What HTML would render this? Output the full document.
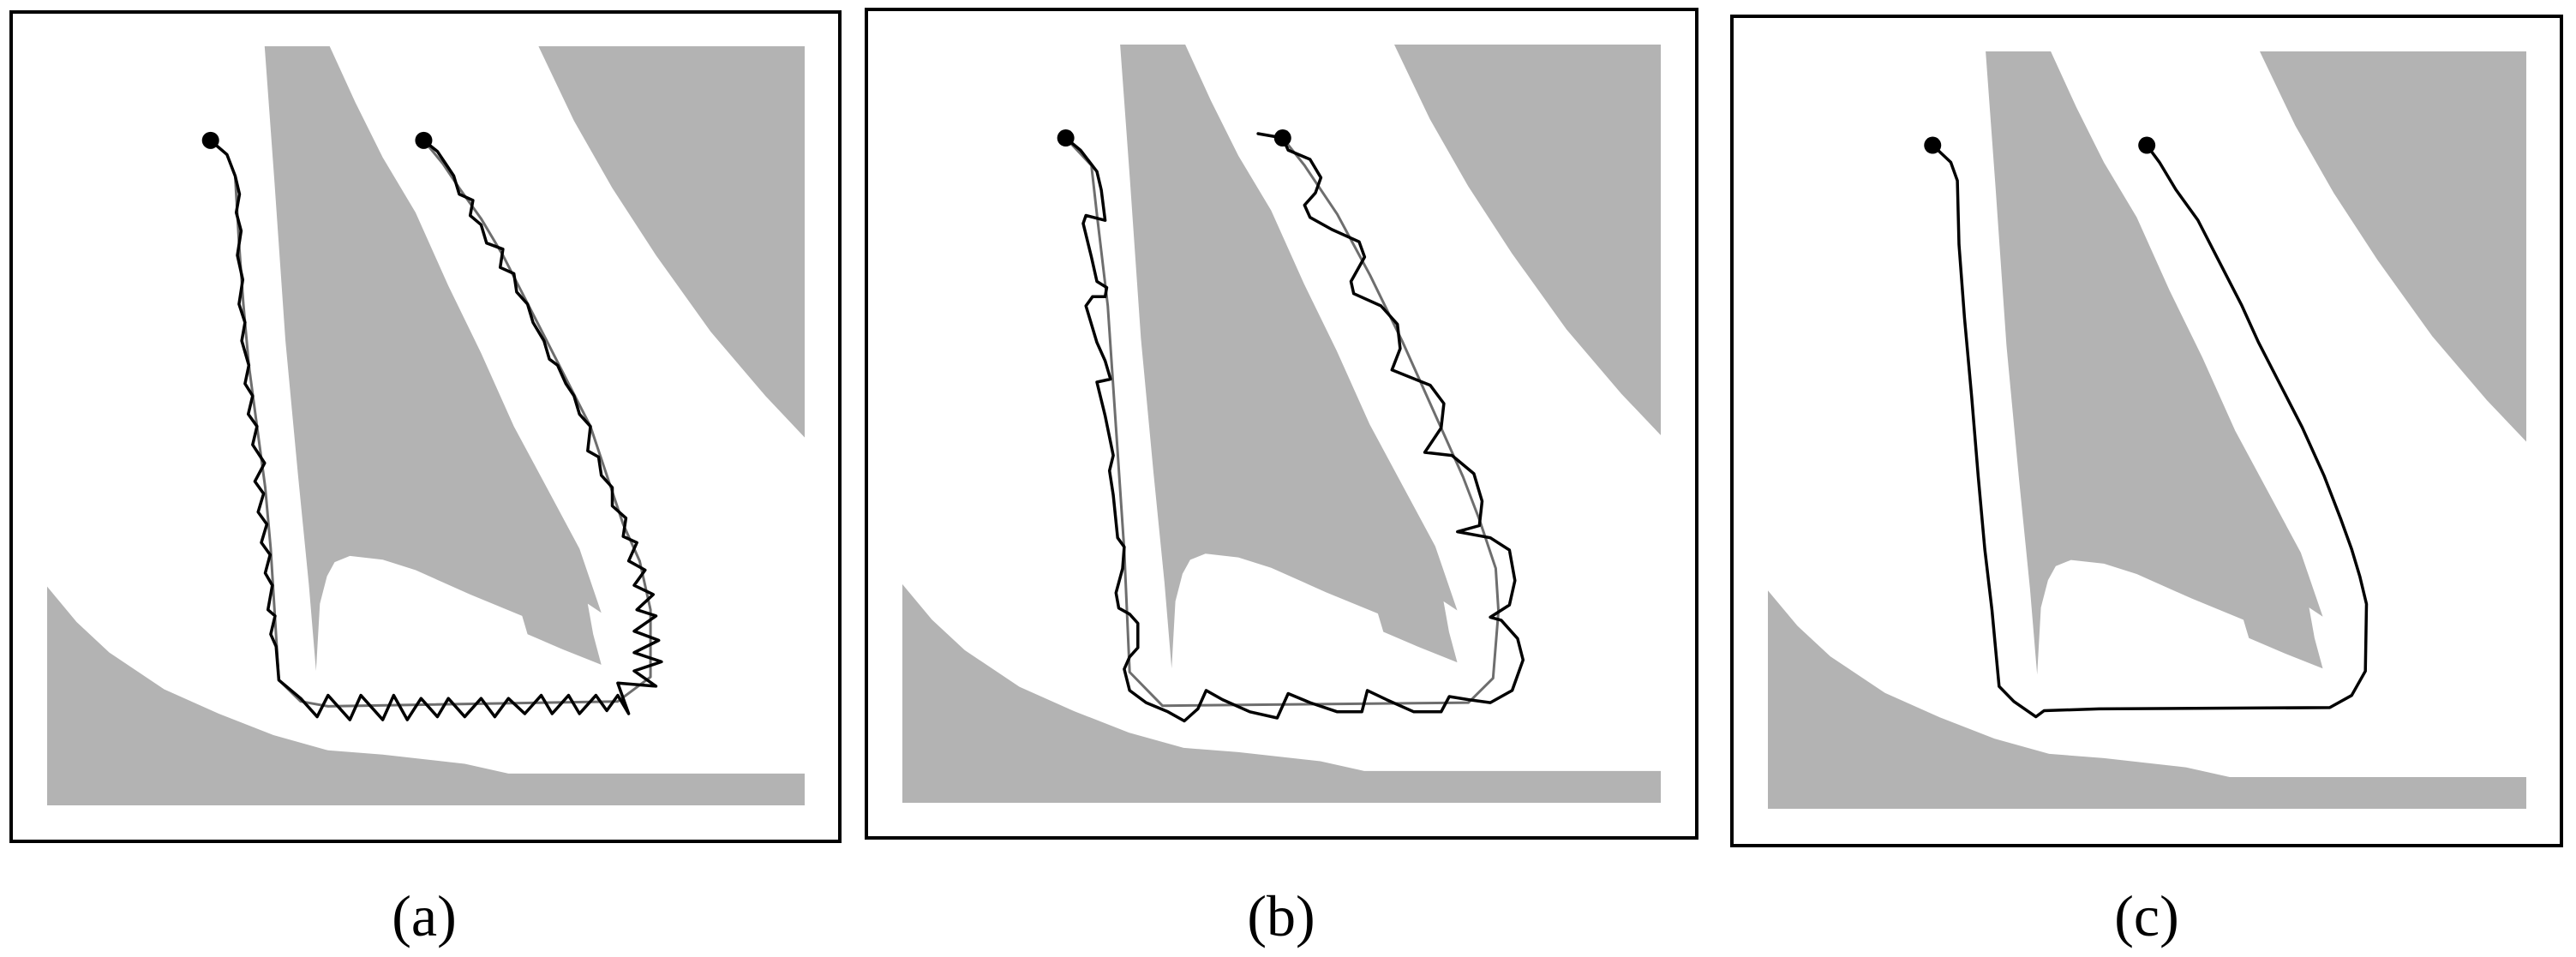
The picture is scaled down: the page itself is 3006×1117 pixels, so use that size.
<!DOCTYPE html>
<html><head><meta charset="utf-8"><style>
html,body{margin:0;padding:0;background:#fff;}
svg{display:block;}
text{font-family:"Liberation Serif",serif;}
</style></head><body>
<svg id="fig" width="3006" height="1117" viewBox="0 0 3006 1117" xmlns="http://www.w3.org/2000/svg">
<rect x="0" y="0" width="3006" height="1117" fill="#fff"/>
</svg>
<script>
// obstacle shapes (map coords, reference frame Z0 = gray rect 86,78 - 1472,1320)
const wedgeShape = [[484,78],[603,78],[650,170],[700,260],[760,350],[820,470],[880,580],[940,700],[1000,800],[1060,900],[1100,1005],[1075,990],[1085,1040],[1100,1090],[1030,1065],[965,1040],[955,1010],[860,975],[760,935],[700,918],[640,912],[612,922],[598,945],[585,990],[578,1100],[565,960],[545,780],[522,560],[502,300]];
const cornerShape = [[985,78],[1472,78],[1472,718],[1400,650],[1300,545],[1200,420],[1120,310],[1050,200]];
const bottomShape = [[86,962],[140,1020],[200,1070],[300,1130],[400,1170],[500,1205],[600,1230],[700,1237],[850,1252],[930,1268],[1472,1268],[1472,1320],[86,1320]];

// panel (a) paths, zoom frame 86,78 - 1472,1320
const refA = [[385,232],[415,255],[430,290],[437,400],[445,500],[455,600],[470,700],[485,800],[495,900],[502,1000],[510,1115],[550,1150],[600,1158],[1130,1150],[1190,1110],[1190,1000],[1170,920],[1140,860],[1110,780],[1080,700],[1040,630],[1000,560],[960,490],[920,420],[880,360],[840,310],[810,270],[775,232]];
const trajA = [[385,232],[415,255],[430,290],[438,320],[432,350],[441,380],[434,420],[444,460],[437,500],[448,530],[442,560],[455,600],[448,630],[462,650],[454,680],[470,700],[462,730],[484,760],[466,790],[482,810],[472,840],[488,860],[478,890],[494,910],[485,940],[498,960],[490,1000],[503,1010],[495,1040],[505,1060],[510,1115],[550,1145],[580,1175],[600,1140],[640,1180],[660,1140],[700,1180],[720,1140],[745,1180],[770,1145],[800,1175],[820,1145],[850,1175],[880,1145],[905,1175],[930,1145],[960,1170],[990,1140],[1010,1170],[1040,1140],[1060,1170],[1090,1140],[1110,1165],[1130,1140],[1150,1170],[1130,1120],[1200,1125],[1160,1100],[1210,1085],[1160,1070],[1205,1050],[1160,1035],[1200,1010],[1165,1000],[1195,975],[1160,960],[1180,935],[1150,920],[1165,890],[1140,880],[1145,850],[1120,830],[1120,800],[1100,780],[1095,750],[1075,740],[1080,700],[1060,680],[1050,650],[1035,630],[1020,600],[1005,590],[995,560],[975,530],[965,500],[945,480],[940,450],[915,440],[920,410],[890,400],[880,370],[860,355],[865,330],[840,320],[830,290],[815,270],[800,250],[775,232]];

// panel (b) paths, zoom frame 84,72 - 1472,1314
const refB = [[383,225],[430,270],[440,350],[460,500],[475,700],[490,900],[500,1100],[560,1155],[1120,1150],[1165,1110],[1175,1000],[1170,930],[1140,850],[1110,780],[1060,680],[1000,560],[940,450],[880,350],[820,270],[780,225]];
const trajB = [[383,225],[410,245],[440,280],[448,310],[455,360],[420,352],[415,365],[430,420],[440,460],[458,470],[455,485],[432,485],[420,500],[440,560],[455,590],[465,620],[440,625],[455,680],[470,745],[463,770],[470,810],[478,880],[490,895],[487,930],[475,970],[480,995],[500,1005],[515,1020],[515,1060],[500,1075],[490,1095],[500,1130],[530,1150],[570,1165],[600,1180],[625,1160],[640,1130],[670,1145],[720,1165],[770,1175],[790,1135],[830,1150],[880,1165],[925,1165],[935,1130],[970,1145],[1020,1165],[1070,1165],[1085,1140],[1120,1145],[1160,1150],[1200,1130],[1220,1080],[1210,1045],[1180,1015],[1160,1010],[1195,990],[1205,950],[1195,900],[1160,880],[1100,870],[1140,860],[1145,820],[1130,775],[1090,745],[1040,740],[1070,700],[1075,660],[1050,630],[980,605],[995,570],[990,530],[960,500],[910,480],[905,460],[930,420],[920,395],[870,375],[830,355],[820,335],[840,315],[850,290],[830,260],[790,245],[780,225],[735,218]];

// panel (c) paths, zoom frame 97,83 - 1478,1326
const refC = [[397,237],[430,265],[442,295],[445,400],[455,520],[468,650],[480,780],[492,900],[505,1000],[518,1125],[545,1150],[585,1175],[600,1165],[700,1162],[1120,1160],[1160,1140],[1185,1100],[1187,990],[1175,945],[1160,900],[1140,850],[1110,780],[1070,700],[1030,630],[990,560],[960,500],[920,430],[880,360],[840,310],[810,265],[787,237]];
const trajC = refC;

const labels = ["(a)","(b)","(c)"];

const NS="http://www.w3.org/2000/svg";
const svg=document.getElementById('fig');
const Zmap=[86,78,1472,1320];
const panels=[
 {frame:[13,14,980,982], gray:[55,54,939,940], z:[86,78,1472,1320], ref:refA, traj:trajA, lx:495, name:'a'},
 {frame:[1011,11,1980,978], gray:[1053,52,1938,937], z:[84,72,1472,1314], ref:refB, traj:trajB, lx:1495, name:'b'},
 {frame:[2021,19,2989,987], gray:[2063,60,2948,944], z:[97,83,1478,1326], ref:refC, traj:trajC, lx:2505, name:'c'}
];
function mk(tag,attrs){const e=document.createElementNS(NS,tag);for(const k in attrs)e.setAttribute(k,attrs[k]);return e;}
function mapper(z,g){return p=>[g[0]+(p[0]-z[0])/(z[2]-z[0])*(g[2]-g[0]), g[1]+(p[1]-z[1])/(z[3]-z[1])*(g[3]-g[1])];}
function pts(arr,f){return arr.map(p=>f(p).map(v=>v.toFixed(1)).join(',')).join(' ');}
panels.forEach((P,i)=>{
  const g=mk('g',{});
  
  
  svg.appendChild(g);
  const fs=mapper(Zmap,P.gray);
  [[wedgeShape,'wedge-obstacle'],[cornerShape,'corner-obstacle'],[bottomShape,'bottom-obstacle']].forEach(([s,n])=>{
    const e=mk('polygon',{points:pts(s,fs),fill:'#b3b3b3'});
    
    
    g.appendChild(e);
  });
  const fp=mapper(P.z,P.gray);
  if(P.ref!==P.traj){
    const r=mk('polyline',{points:pts(P.ref,fp),fill:'none',stroke:'#6e6e6e','stroke-width':3,'stroke-linejoin':'round'});
    
    
    g.appendChild(r);
  }
  const t=mk('polyline',{points:pts(P.traj,fp),fill:'none',stroke:'#000','stroke-width':3.5,'stroke-linejoin':'round','stroke-linecap':'round'});
  
  
  g.appendChild(t);
  [P.ref[0],P.ref[P.ref.length-1]].forEach((p,k)=>{
    const q=fp(p);
    const c=mk('circle',{cx:q[0],cy:q[1],r:10,fill:'#000'});
    
    
    g.appendChild(c);
  });
  const f=P.frame;
  const fr=mk('rect',{x:f[0],y:f[1],width:f[2]-f[0],height:f[3]-f[1],fill:'none',stroke:'#000','stroke-width':4});
  
  
  g.appendChild(fr);
  const tx=mk('text',{x:P.lx,y:1092,'text-anchor':'middle','font-size':68,fill:'#000'});
  tx.textContent=labels[i];
  
  
  g.appendChild(tx);
});
</script>
</body></html>
